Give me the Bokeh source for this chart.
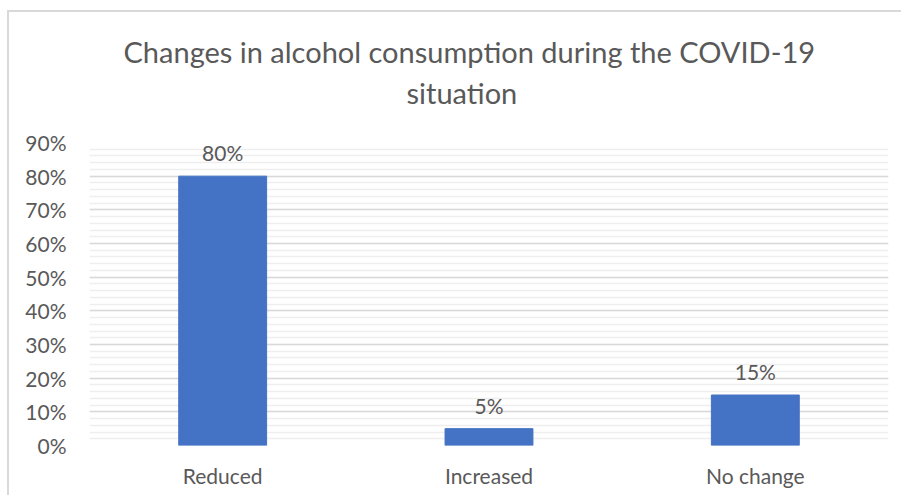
from bokeh.plotting import figure
from bokeh.models import (ColumnDataSource, FixedTicker, NumeralTickFormatter,
                          Title, Range1d, LabelSet)
from bokeh.core.properties import value
from bokeh.embed import file_html
from bokeh.resources import INLINE

categories = ["Reduced", "Increased", "No change"]
shares = [0.80, 0.05, 0.15]
share_labels = ["80%", "5%", "15%"]
y_ticks = [0.0, 0.1, 0.2, 0.3, 0.4, 0.5, 0.6, 0.7, 0.8, 0.9]
y_minor = [round(i * 0.02, 2) for i in range(46)]
title_line1 = "Changes in alcohol consumption during the COVID-19"
title_line2 = "situation"

FONT = "Lato"
GREY = "#595959"

src = ColumnDataSource(dict(cat=categories, val=shares, lab=share_labels))

p = figure(x_range=categories, y_range=Range1d(0, 0.9),
           width=894, height=485, output_backend="svg", toolbar_location=None,
           title=None, min_border_left=80, min_border_right=15,
           min_border_bottom=52, min_border_top=130)
p.styles = {"border-left": "2px solid #d9d9d9", "border-top": "2px solid #d9d9d9",
            "margin-top": "10px", "margin-left": "7px"}
p.x_range.range_padding = 0
p.outline_line_color = None
p.background_fill_color = "white"
p.border_fill_color = "white"

p.vbar(x="cat", top="val", width=0.33, source=src, color="#4472c4")

labels = LabelSet(x="cat", y="val", text="lab", source=src, text_align="center",
                  text_baseline="bottom", y_offset=11, text_font=value(FONT),
                  text_font_size="21px", text_color=GREY)
p.add_layout(labels)

p.yaxis.ticker = FixedTicker(ticks=y_ticks, minor_ticks=y_minor)
p.yaxis.formatter = NumeralTickFormatter(format="0%")
for ax in (p.xaxis[0], p.yaxis[0]):
    ax.axis_line_color = None
    ax.major_tick_line_color = None
    ax.minor_tick_line_color = None
    ax.major_label_text_font = FONT
    ax.major_label_text_font_size = "21px"
    ax.major_label_text_color = GREY
p.yaxis.major_label_standoff = 17
p.xaxis.major_label_standoff = 11

p.xgrid.grid_line_color = None
p.ygrid.grid_line_color = "#d9d9d9"
p.ygrid.grid_line_width = 1.5
p.ygrid.minor_grid_line_color = "#eeeeee"
p.ygrid.minor_grid_line_width = 1.5

t2 = Title(text=title_line2, align="left", offset=317, text_font=FONT,
           text_font_size="29px", text_font_style="normal", text_color=GREY,
           standoff=66)
t1 = Title(text=title_line1, align="left", offset=34, text_font=FONT,
           text_font_size="29px", text_font_style="normal", text_color=GREY,
           standoff=-59)
p.add_layout(t2, "above")
p.add_layout(t1, "above")

open("out.html", "w").write(file_html(p, INLINE))
